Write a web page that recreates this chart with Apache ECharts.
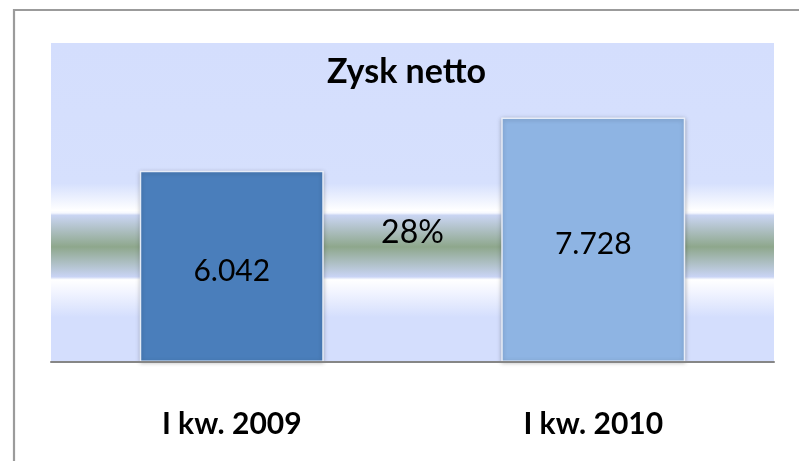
<!DOCTYPE html>
<html>
<head>
<meta charset="utf-8">
<script src="https://cdn.jsdelivr.net/npm/echarts@6/dist/echarts.min.js"></script>
<style>
html,body{margin:0;padding:0;background:#fff;}
#c{width:799px;height:461px;}
</style>
</head>
<body>
<div id="c"></div>
<script>
const categories = ['I kw. 2009', 'I kw. 2010'];
const profitValues = [6042, 7728];
const barColors = ['#4A7EBB', '#8EB4E3'];
const growthLabels = ['28%'];
const chartTitle = 'Zysk netto';

function fmt(v) {
  return String(v).replace(/\B(?=(\d{3})+(?!\d))/g, '.');
}

const chart = echarts.init(document.getElementById('c'), null, {renderer: 'canvas'});

const bg = new echarts.graphic.LinearGradient(0, 0, 0, 1, [
  {offset: 0, color: '#D4DEFD'},
  {offset: 0.44, color: '#D6E0FD'},
  {offset: 0.525, color: '#FFFFFF'},
  {offset: 0.533, color: '#F6F8FF'},
  {offset: 0.540, color: '#CAD5F3'},
  {offset: 0.639, color: '#8EA78C'},
  {offset: 0.733, color: '#C9D4F5'},
  {offset: 0.742, color: '#FFFFFF'},
  {offset: 0.775, color: '#F4F6FF'},
  {offset: 0.86, color: '#D4DEFD'},
  {offset: 1, color: '#D4DEFD'}
]);

const borderRect = {
  type: 'rect',
  silent: true,
  shape: {x: 14, y: 10, width: 900, height: 900},
  style: {fill: 'none', stroke: '#9B9B9B', lineWidth: 2.2},
  z: 100
};

const option = {
  animation: false,
  backgroundColor: '#FFFFFF',
  title: {
    text: chartTitle,
    left: 327,
    top: 55,
    padding: 0,
    textStyle: {fontFamily: 'Lato', fontWeight: 'bold', fontSize: 34, color: '#000'}
  },
  grid: {
    left: 51, right: 25, top: 43, bottom: 99,
    show: true, backgroundColor: bg, borderWidth: 0
  },
  xAxis: {
    type: 'category',
    data: categories,
    axisLine: {show: true, lineStyle: {color: '#868686', width: 2}},
    axisTick: {show: false},
    axisLabel: {margin: 47, fontFamily: 'Lato', fontWeight: 'bold', fontSize: 30, color: '#000'},
    splitLine: {show: false},
    z: 10
  },
  yAxis: {
    type: 'value', min: 0, max: 10080, show: false,
    splitLine: {show: false}
  },
  series: [{
    type: 'bar',
    barWidth: 184,
    data: profitValues.map((v, i) => ({
      value: v,
      itemStyle: {color: barColors[i]}
    })),
    itemStyle: {
      borderColor: 'rgba(235,240,250,0.95)',
      borderWidth: 1.5,
      shadowBlur: 4,
      shadowColor: 'rgba(0,0,0,0.25)',
      shadowOffsetY: 1
    },
    label: {
      show: true,
      position: 'inside',
      offset: [0, 5],
      fontFamily: 'Lato',
      fontSize: 30,
      color: '#000',
      formatter: p => fmt(p.value)
    }
  }],
  graphic: [borderRect]
};
chart.setOption(option);

const p0 = chart.convertToPixel({xAxisIndex: 0}, categories[0]);
const p1 = chart.convertToPixel({xAxisIndex: 0}, categories[1]);
chart.setOption({
  graphic: [borderRect, {
    type: 'text',
    silent: true,
    x: (p0 + p1) / 2,
    y: 233,
    style: {
      text: growthLabels[0],
      fontFamily: 'Lato', fontSize: 32, fill: '#000',
      textAlign: 'center', textVerticalAlign: 'middle'
    },
    z: 100
  }]
});
</script>
</body>
</html>
